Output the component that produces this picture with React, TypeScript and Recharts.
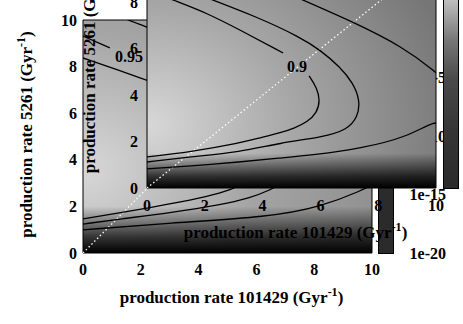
import React from 'react';
import { ComposedChart, Line, XAxis, YAxis, ReferenceArea, ReferenceDot, Label } from 'recharts';

// tick values shared by both panels
const axisTicks = [0, 2, 4, 6, 8, 10];

// main panel: visible contour pieces (Gyr^-1 units)
const mainLow1 = [
  { x: 0, y: 1.46 }, { x: 1.28, y: 1.72 }, { x: 3.0, y: 2.1 }, { x: 4.39, y: 2.45 },
  { x: 5.09, y: 2.7 }, { x: 5.6, y: 3.0 },
];
const mainLow2 = [
  { x: 0, y: 1.24 }, { x: 1.28, y: 1.46 }, { x: 3.0, y: 1.72 }, { x: 4.74, y: 2.06 },
  { x: 5.78, y: 2.36 }, { x: 6.47, y: 2.7 }, { x: 6.9, y: 3.0 },
];
const mainLow3 = [
  { x: 0, y: 0.99 }, { x: 3.0, y: 1.29 }, { x: 6.47, y: 1.55 }, { x: 8.2, y: 1.97 },
  { x: 9.69, y: 2.7 }, { x: 10.1, y: 3.0 },
];
const mainUp1 = [{ x: 1.2, y: 10.2 }, { x: 1.56, y: 10.0 }, { x: 2.21, y: 9.7 }, { x: 2.7, y: 9.45 }];
const mainUp2 = [{ x: 0, y: 9.31 }, { x: 0.93, y: 8.8 }];
const mainUp3 = [{ x: 0, y: 8.37 }, { x: 2.21, y: 7.42 }, { x: 2.7, y: 7.2 }];
const mainDiag = [{ x: 0, y: 0 }, { x: 8, y: 10 }];
const mainLabel = { x: 1.59, y: 8.45, text: '0.95' };

// inset panel contours
const insetAUpper = [
  { x: 0, y: 8.55 }, { x: 0.9, y: 8.1 }, { x: 2.08, y: 7.54 }, { x: 3.22, y: 6.81 }, { x: 4.71, y: 5.82 },
];
const insetALower = [
  { x: 5.61, y: 4.83 }, { x: 5.88, y: 4.31 }, { x: 5.99, y: 3.79 }, { x: 5.88, y: 3.23 },
  { x: 5.54, y: 2.84 }, { x: 5.12, y: 2.59 }, { x: 4.6, y: 2.37 }, { x: 3.91, y: 2.16 },
  { x: 3.22, y: 1.94 }, { x: 1.49, y: 1.55 }, { x: 0, y: 1.34 },
];
const insetB = [
  { x: 0, y: 9.2 }, { x: 2.28, y: 8.1 }, { x: 3.81, y: 7.37 }, { x: 5.29, y: 6.51 },
  { x: 5.99, y: 5.95 }, { x: 6.68, y: 5.22 }, { x: 7.13, y: 4.53 }, { x: 7.37, y: 3.79 },
  { x: 7.3, y: 3.06 }, { x: 6.92, y: 2.5 }, { x: 6.09, y: 2.2 }, { x: 4.6, y: 1.94 },
  { x: 3.22, y: 1.55 }, { x: 1.49, y: 1.34 }, { x: 0, y: 1.12 },
];
const insetCUpper = [
  { x: 1.9, y: 10 }, { x: 5.4, y: 8.1 }, { x: 7.13, y: 7.16 }, { x: 8.86, y: 6.08 },
  { x: 10, y: 5.0 }, { x: 10.4, y: 4.5 },
];
const insetCLower = [
  { x: 10.3, y: 2.7 }, { x: 10, y: 2.93 }, { x: 9.0, y: 2.2 }, { x: 7.47, y: 1.72 },
  { x: 5.74, y: 1.42 }, { x: 4.6, y: 1.29 }, { x: 3.22, y: 1.12 }, { x: 1.49, y: 0.95 },
  { x: 0, y: 0.82 },
];
const insetDiag = [{ x: 0, y: 0 }, { x: 10, y: 10 }];
const insetLabel = { x: 5.19, y: 5.26, text: '0.9' };

// colour-bar tick labels of the main panel
const cbLabels = [
  { text: '1e-20', top: 254 },
  { text: '1e-15', top: 195 },
  { text: '1e-10', top: 137 },
  { text: '1e-5', top: 78 },
];

const FONT = '"Liberation Serif", "Times New Roman", serif';
const tickStyle = { fill: '#000', fontSize: 16, fontWeight: 'bold', fontFamily: FONT };

const XTitle = (props: any) => {
  const vb = props.viewBox;
  return (
    <text x={vb.x + vb.width / 2 + 4} y={vb.y + 50} textAnchor="middle"
      fontSize={17} fontWeight="bold" fontFamily={FONT} fill="#000">
      production rate 101429 (Gyr<tspan dy={-7} fontSize={12}>-1</tspan><tspan dy={7}>)</tspan>
    </text>
  );
};

const makeYTitle = (cxPx: number) => (props: any) => {
  const vb = props.viewBox;
  const cy = vb.y + vb.height / 2 - 2;
  return (
    <text x={cxPx} y={cy + 5} transform={`rotate(-90, ${cxPx}, ${cy})`} textAnchor="middle"
      fontSize={17} fontWeight="bold" fontFamily={FONT} fill="#000">
      production rate 5261 (Gyr<tspan dy={-7} fontSize={12}>-1</tspan><tspan dy={7}>)</tspan>
    </text>
  );
};

const contour = (data: { x: number; y: number }[], key: string) => (
  <Line key={key} data={data} dataKey="y" type="basis" stroke="#000" strokeWidth={1.3}
    dot={false} activeDot={false} isAnimationActive={false} />
);

const diag = (data: { x: number; y: number }[]) => (
  <Line data={data} dataKey="y" type="linear" stroke="#fff" strokeWidth={1.3}
    strokeDasharray="1.5 2.5" dot={false} activeDot={false} isAnimationActive={false} />
);

export default function App() {
  return (
    <div style={{ position: 'absolute', left: 0, top: 0, width: 463, height: 324, overflow: 'hidden', background: '#fff' }}>
      {/* main panel */}
      <div style={{ position: 'absolute', left: 0, top: 0 }}>
        <ComposedChart width={463} height={324} margin={{ top: 20, right: 91, left: 0, bottom: 0 }}>
          <defs>
            <radialGradient id="mainRad" cx="0" cy="0.64" r="1" fx="0" fy="0.64">
              <stop offset="0" stopColor="#d8d8d8" />
              <stop offset="0.6" stopColor="#a4a4a4" />
              <stop offset="1" stopColor="#929292" />
            </radialGradient>
            <linearGradient id="mainFade" x1="0" y1="0" x2="0" y2="1">
              <stop offset="0.8" stopColor="#000" stopOpacity={0} />
              <stop offset="0.93" stopColor="#000" stopOpacity={0.72} />
              <stop offset="1" stopColor="#000" stopOpacity={1} />
            </linearGradient>
          </defs>
          <XAxis type="number" dataKey="x" domain={[0, 10]} ticks={axisTicks} interval={0}
            allowDataOverflow axisLine={false} tickLine={false} tickSize={0} tickMargin={11}
            height={71} tick={tickStyle}>
            <Label content={XTitle} />
          </XAxis>
          <YAxis type="number" domain={[0, 10]} ticks={axisTicks} interval={0}
            allowDataOverflow axisLine={false} tickLine={false} tickSize={0} tickMargin={6}
            width={83} tick={tickStyle}>
            <Label content={makeYTitle(27)} />
          </YAxis>
          <ReferenceArea x1={0} x2={10} y1={0} y2={10} fill="url(#mainRad)" fillOpacity={1} stroke="none" />
          <ReferenceArea x1={0} x2={10} y1={0} y2={10} fill="url(#mainFade)" fillOpacity={1} stroke="none" />
          {diag(mainDiag)}
          {contour(mainLow1, 'l1')}
          {contour(mainLow2, 'l2')}
          {contour(mainLow3, 'l3')}
          {contour(mainUp1, 'u1')}
          {contour(mainUp2, 'u2')}
          {contour(mainUp3, 'u3')}
          <ReferenceDot x={mainLabel.x} y={mainLabel.y} r={0} fill="none" stroke="none"
            label={{ value: mainLabel.text, position: 'center', fill: '#000', fontSize: 16, fontWeight: 'bold', fontFamily: FONT }} />
          <ReferenceArea x1={0} x2={10} y1={0} y2={10} fill="none" stroke="#000" strokeWidth={1} />
        </ComposedChart>
      </div>

      {/* main colour bar */}
      <div style={{ position: 'absolute', left: 378, top: 20, width: 14, height: 232, background: '#2b2b2b', border: '1px solid #000' }} />
      {cbLabels.map((l) => (
        <div key={l.text} style={{
          position: 'absolute', right: 17, top: l.top - 10, fontFamily: FONT, fontWeight: 'bold',
          fontSize: 16, lineHeight: '20px', color: '#000',
        }}>{l.text}</div>
      ))}

      {/* inset panel */}
      <div style={{ position: 'absolute', left: 0, top: -64 }}>
        <ComposedChart width={463} height={320} margin={{ top: 20, right: 27, left: 0, bottom: 0 }}>
          <defs>
            <radialGradient id="inRad" cx="0" cy="0.73" r="1.1" fx="0" fy="0.73">
              <stop offset="0" stopColor="#d8d8d8" />
              <stop offset="0.45" stopColor="#a8a8a8" />
              <stop offset="1" stopColor="#767676" />
            </radialGradient>
            <linearGradient id="inFade" x1="0" y1="0" x2="0" y2="1">
              <stop offset="0.85" stopColor="#000" stopOpacity={0} />
              <stop offset="0.95" stopColor="#000" stopOpacity={0.75} />
              <stop offset="1" stopColor="#000" stopOpacity={1} />
            </linearGradient>
          </defs>
          <XAxis type="number" dataKey="x" domain={[0, 10]} ticks={axisTicks} interval={0}
            allowDataOverflow axisLine={false} tickLine={false} tickSize={0} tickMargin={12}
            height={68} tick={tickStyle}>
            <Label content={XTitle} />
          </XAxis>
          <YAxis type="number" domain={[0, 10]} ticks={axisTicks} interval={0}
            allowDataOverflow axisLine={false} tickLine={false} tickSize={0} tickMargin={9}
            width={147} tick={tickStyle}>
            <Label content={makeYTitle(90)} />
          </YAxis>
          <ReferenceArea x1={0} x2={10} y1={0} y2={10} fill="url(#inRad)" fillOpacity={1} stroke="none" />
          <ReferenceArea x1={0} x2={10} y1={0} y2={10} fill="url(#inFade)" fillOpacity={1} stroke="none" />
          {diag(insetDiag)}
          {contour(insetAUpper, 'a1')}
          {contour(insetALower, 'a2')}
          {contour(insetB, 'b')}
          {contour(insetCUpper, 'c1')}
          {contour(insetCLower, 'c2')}
          <ReferenceDot x={insetLabel.x} y={insetLabel.y} r={0} fill="none" stroke="none"
            label={{ value: insetLabel.text, position: 'center', fill: '#000', fontSize: 16, fontWeight: 'bold', fontFamily: FONT }} />
          <ReferenceArea x1={0} x2={10} y1={0} y2={10} fill="none" stroke="#000" strokeWidth={1} />
        </ComposedChart>
      </div>

      {/* inset colour bar */}
      <div style={{
        position: 'absolute', left: 443, top: -44, width: 14, height: 231, border: '1px solid #000',
        background: 'linear-gradient(to bottom, #e2e2e2 0%, #bdbdbd 19%, #777 36%, #4a4a4a 53%, #363636 75%, #2a2a2a 100%)',
      }} />
    </div>
  );
}
